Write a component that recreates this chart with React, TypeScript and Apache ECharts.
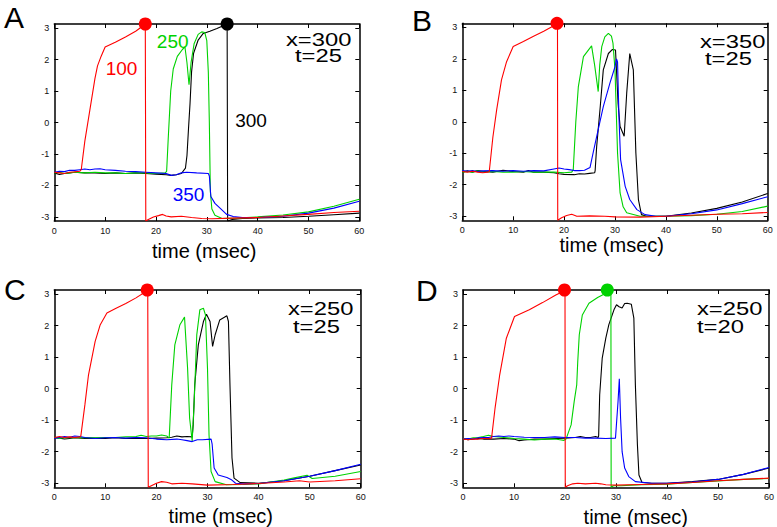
import React, { useEffect, useRef } from "react";
import * as echarts from "echarts";

// ---------- tick values ----------
const TIME_MIN = 0;
const TIME_MAX = 60;
const TIME_STEP = 10;
const V_MIN = -3.13;
const V_MAX = 3.13;
const V_TICKS = [-3, -2, -1, 0, 1, 2, 3];

// ---------- panel texts ----------
const PANEL_LETTERS = ["A", "B", "C", "D"];
const PANEL_X = ["x=300", "x=350", "x=250", "x=250"];
const PANEL_T = ["t=25", "t=25", "t=25", "t=20"];
const AXIS_TITLE = "time (msec)";
const A_CURVE_LABELS = ["100", "250", "300", "350"];

type P = [number, number];

// ---------- Panel A ----------
const aRed: P[] = [[0,-1.58],[1,-1.6],[2,-1.62],[3,-1.58],[4,-1.57],[5,-1.55],[5.3,-1.5],[6,-0.6],[7,0.4],[8,1.4],[8.5,1.8],[9.2,2.1],[10,2.4],[12,2.55],[14,2.72],[16,2.9],[17.9,3.12],[18.0,-3.13],[18.5,-3.08],[19.5,-3.0],[20.5,-2.96],[21.3,-2.92],[22,-2.97],[23,-3.0],[25,-2.98],[27,-3.02],[29,-3.05],[31,-3.06],[35,-3.04],[40,-3.02],[45,-2.97],[50,-2.92],[55,-2.86],[60,-2.82]];
const aGreen: P[] = [[0,-1.6],[1,-1.58],[2,-1.62],[3,-1.6],[4,-1.58],[6,-1.6],[8,-1.58],[10,-1.6],[12,-1.6],[14,-1.62],[16,-1.6],[18,-1.6],[20,-1.62],[21.8,-1.6],[22.1,-1.55],[22.4,-0.55],[22.9,1.0],[23.4,1.7],[24.2,2.1],[25.2,2.32],[25.7,2.4],[26.1,1.9],[26.5,1.2],[26.9,1.9],[27.5,2.5],[28.3,2.8],[29.0,2.88],[29.6,2.86],[30.0,2.6],[30.3,1.6],[30.5,0.0],[30.7,-2.2],[31.0,-2.75],[31.6,-2.95],[33,-3.05],[36,-3.04],[40,-3.0],[45,-2.94],[50,-2.84],[55,-2.66],[60,-2.44]];
const aBlack: P[] = [[0,-1.6],[1,-1.65],[2,-1.62],[3,-1.6],[4,-1.58],[6,-1.6],[8,-1.6],[10,-1.62],[12,-1.6],[14,-1.62],[16,-1.6],[18,-1.62],[20,-1.64],[22,-1.66],[23,-1.68],[24,-1.66],[25,-1.62],[25.8,-1.45],[26.1,-1.05],[26.4,-0.2],[26.7,0.6],[27,1.6],[27.4,2.2],[28.3,2.62],[29.3,2.83],[30.6,2.9],[32,2.99],[33,3.06],[34.0,3.12],[34.1,-3.13],[35,-3.08],[37,-3.05],[40,-3.03],[45,-3.02],[50,-2.98],[55,-2.93],[60,-2.88]];
const aBlue: P[] = [[0,-1.58],[1,-1.55],[2,-1.56],[3,-1.52],[4,-1.52],[5,-1.5],[6,-1.48],[7,-1.5],[8,-1.48],[9,-1.47],[10,-1.5],[12,-1.52],[14,-1.55],[16,-1.56],[18,-1.58],[20,-1.6],[22,-1.62],[23,-1.68],[24,-1.66],[25,-1.6],[26,-1.58],[28,-1.6],[30.3,-1.62],[30.5,-1.7],[30.8,-2.35],[31.6,-2.57],[32.6,-2.72],[33.9,-2.92],[35.2,-2.99],[37,-3.02],[40,-3.02],[45,-2.98],[50,-2.88],[55,-2.72],[60,-2.5]];
const aRedDot: P[] = [[17.9, 3.13]];
const aBlackDot: P[] = [[34.0, 3.13]];

// ---------- Panel B ----------
const bRed: P[] = [[0,-1.58],[1,-1.6],[2,-1.57],[3,-1.6],[4,-1.62],[5,-1.6],[5.3,-1.58],[6,-0.5],[6.75,0.38],[7.7,1.33],[8.7,1.91],[10,2.39],[12,2.55],[14,2.72],[16,2.88],[18.5,3.1],[18.7,3.12],[18.75,-3.13],[19.5,-3.05],[20.5,-2.98],[21.5,-2.94],[22.5,-3.0],[25,-2.99],[28,-3.0],[30,-3.02],[35,-3.03],[40,-3.0],[45,-2.97],[50,-2.94],[55,-2.92],[60,-2.88]];
const bGreen: P[] = [[0,-1.6],[1,-1.58],[2,-1.6],[3,-1.56],[4,-1.6],[6,-1.58],[8,-1.6],[10,-1.6],[12,-1.58],[14,-1.6],[16,-1.6],[18,-1.6],[20,-1.62],[21.5,-1.6],[21.8,-1.52],[22.3,0.0],[22.8,1.12],[23.8,2.07],[25.4,2.41],[26.0,1.8],[26.7,0.96],[27.0,1.8],[27.4,2.39],[28.0,2.7],[28.7,2.81],[29.3,2.72],[29.6,2.5],[30.0,1.65],[30.5,-0.99],[31.0,-2.26],[31.6,-2.7],[32.3,-2.89],[34.9,-3.0],[40,-3.0],[45,-2.98],[50,-2.94],[55,-2.85],[60,-2.68]];
const bBlack: P[] = [[0,-1.6],[1,-1.56],[2,-1.6],[3,-1.55],[4,-1.57],[6,-1.6],[8,-1.54],[10,-1.58],[12,-1.6],[13,-1.55],[14,-1.6],[16,-1.6],[18,-1.62],[19,-1.65],[20,-1.67],[22,-1.68],[23,-1.65],[24,-1.66],[25,-1.64],[26,-1.62],[26.1,-1.55],[26.4,-0.78],[27.1,0.48],[27.7,1.65],[28.7,2.17],[29.5,2.3],[30.1,2.28],[30.6,0.59],[31.0,-0.15],[31.8,-0.46],[32.3,0.91],[32.9,2.17],[33.6,1.65],[34.1,-0.99],[34.6,-2.47],[35.2,-2.95],[36.2,-3.0],[40,-3.0],[45,-2.9],[50,-2.75],[55,-2.55],[60,-2.28]];
const bBlue: P[] = [[0,-1.55],[1,-1.57],[2,-1.55],[3,-1.58],[4,-1.56],[6,-1.55],[8,-1.57],[10,-1.55],[12,-1.57],[14,-1.55],[16,-1.56],[18,-1.5],[19,-1.47],[20,-1.5],[21,-1.52],[22,-1.55],[23,-1.55],[24,-1.54],[25.1,-1.45],[25.7,-0.99],[26.7,-0.25],[27.7,0.48],[29.0,1.23],[30.0,1.75],[30.3,2.0],[30.5,1.9],[30.8,0.06],[31.1,-1.2],[32.0,-2.05],[32.9,-2.47],[34.3,-2.79],[35.9,-2.95],[38,-3.0],[40,-3.0],[45,-2.92],[50,-2.8],[55,-2.6],[60,-2.38]];
const bRedDot: P[] = [[18.6, 3.13]];
const bBlackDot: P[] = [];

// ---------- Panel C ----------
const cRed: P[] = [[0,-1.55],[1,-1.52],[2,-1.55],[3,-1.53],[4,-1.55],[5,-1.53],[5.2,-1.5],[6,-0.5],[6.7,0.44],[8.0,1.5],[9.0,2.03],[10.3,2.4],[12,2.54],[14,2.7],[16,2.88],[18.1,3.1],[18.3,3.12],[18.4,-3.13],[19,-3.08],[20,-3.0],[21,-2.95],[22,-2.97],[23,-3.02],[25,-3.0],[27,-3.02],[30,-3.06],[35,-3.04],[40,-3.01],[45,-2.96],[48,-2.92],[50,-2.96],[55,-2.92],[60,-2.86]];
const cGreen: P[] = [[0,-1.55],[1,-1.58],[2,-1.55],[4,-1.56],[6,-1.55],[8,-1.56],[10,-1.55],[12,-1.55],[14,-1.53],[16,-1.52],[17,-1.48],[18,-1.52],[19,-1.5],[20,-1.5],[21,-1.47],[22,-1.5],[22.5,-1.57],[23.0,0.12],[23.6,1.39],[24.6,2.03],[25.5,2.27],[26.1,0.65],[26.5,-0.94],[27.0,-1.66],[27.4,-0.41],[27.9,1.71],[28.5,2.5],[29.2,2.55],[29.6,2.34],[30.0,0.65],[30.3,-1.47],[30.7,-2.63],[31.5,-2.95],[33.7,-3.05],[37,-3.04],[40,-3.02],[45,-2.9],[47,-2.83],[49.5,-2.75],[50.5,-2.85],[55,-2.78],[60,-2.63]];
const cBlack: P[] = [[0,-1.55],[1,-1.57],[2,-1.6],[3,-1.58],[4,-1.56],[6,-1.58],[8,-1.57],[10,-1.58],[12,-1.56],[14,-1.58],[16,-1.57],[18,-1.58],[20,-1.57],[22,-1.56],[23,-1.54],[24,-1.5],[25,-1.53],[26,-1.52],[27,-1.53],[27.2,-1.15],[27.5,0.12],[28.2,1.39],[29.2,2.13],[29.8,2.36],[30.5,2.13],[31.0,1.34],[31.5,1.71],[32.4,2.18],[33.8,2.31],[34.1,2.13],[34.4,0.12],[34.8,-2.2],[35.2,-2.84],[36.4,-2.98],[40,-3.0],[45,-2.92],[50,-2.78],[55,-2.6],[60,-2.42]];
const cBlue: P[] = [[0,-1.58],[1,-1.55],[2,-1.52],[3,-1.54],[4,-1.5],[5,-1.52],[6,-1.55],[8,-1.58],[10,-1.56],[12,-1.55],[14,-1.57],[16,-1.55],[18,-1.56],[20,-1.6],[22,-1.62],[24,-1.6],[25,-1.62],[26,-1.65],[27,-1.68],[28,-1.62],[29,-1.62],[30.7,-1.6],[30.9,-1.75],[31.3,-2.52],[32.1,-2.74],[33.8,-2.82],[34.6,-2.88],[35.5,-3.0],[37,-3.02],[40,-3.01],[45,-2.92],[50,-2.78],[55,-2.6],[60,-2.4]];
const cRedDot: P[] = [[18.2, 3.13]];
const cBlackDot: P[] = [];

// ---------- Panel D ----------
const dRed: P[] = [[0,-1.6],[1,-1.62],[2,-1.6],[3,-1.6],[4,-1.58],[5,-1.58],[5.6,-1.57],[6.3,-0.6],[7.2,0.44],[8.5,1.6],[10.1,2.29],[13,2.5],[15.6,2.73],[18.2,2.97],[19.8,3.1],[20.0,3.12],[20.05,-3.13],[20.5,-3.08],[21.5,-3.02],[22.5,-3.0],[24,-3.02],[26,-3.0],[27,-3.02],[28,-3.05],[30,-3.06],[35,-3.04],[40,-3.02],[45,-2.98],[50,-2.92],[55,-2.88],[60,-2.84]];
const dGreen: P[] = [[0,-1.58],[1,-1.6],[2,-1.56],[3,-1.55],[4,-1.52],[5,-1.48],[6,-1.52],[8,-1.55],[10,-1.58],[12,-1.6],[14,-1.63],[16,-1.6],[18,-1.6],[19,-1.62],[19.8,-1.64],[20.2,-1.6],[21.2,-1.15],[21.8,-0.41],[22.3,0.12],[22.5,0.86],[22.8,1.71],[23.4,2.34],[24.7,2.71],[26.4,2.89],[28.0,3.03],[28.3,3.1],[29.0,3.12],[29.05,-3.13],[29.5,-3.08],[31,-3.08],[33,-3.06],[35,-3.05],[40,-3.03],[45,-2.98],[50,-2.93],[55,-2.88],[60,-2.85]];
const dBlack: P[] = [[0,-1.6],[1,-1.62],[2,-1.6],[3,-1.58],[4,-1.6],[6,-1.6],[8,-1.58],[10,-1.6],[11,-1.65],[12,-1.63],[14,-1.6],[16,-1.6],[18,-1.58],[20,-1.57],[22,-1.55],[23,-1.52],[24,-1.55],[25,-1.55],[26,-1.52],[26.5,-1.55],[26.6,-1.5],[26.8,-0.2],[27.3,0.97],[28.0,1.6],[28.6,2.03],[29.6,2.5],[30.1,2.66],[30.6,2.6],[31.2,2.56],[31.7,2.7],[32.2,2.71],[33.0,2.68],[33.5,2.24],[33.8,0.12],[34.2,-1.78],[34.5,-2.74],[35.1,-2.98],[37,-3.0],[40,-3.0],[45,-2.95],[50,-2.88],[55,-2.72],[60,-2.52]];
const dBlue: P[] = [[0,-1.6],[1,-1.58],[2,-1.6],[3,-1.56],[4,-1.55],[5,-1.55],[6,-1.52],[7,-1.5],[8,-1.52],[9,-1.5],[10,-1.52],[12,-1.54],[14,-1.55],[16,-1.55],[18,-1.53],[20,-1.55],[22,-1.55],[24,-1.57],[26,-1.57],[28,-1.58],[29.9,-1.57],[30.4,-0.41],[30.65,0.31],[30.9,-0.94],[31.2,-2.0],[31.7,-2.52],[32.5,-2.79],[33.8,-2.95],[37,-3.0],[40,-3.0],[45,-2.96],[50,-2.88],[55,-2.72],[60,-2.5]];
const dRedDot: P[] = [[19.9, 3.13]];
const dGreenDot: P[] = [[28.3, 3.13]];

// ---------- styles / layout ----------
const FONT = "'Liberation Sans', Arial, Helvetica, sans-serif";
const C_RED = "#ff0000";
const C_GREEN = "#00d200";
const C_BLUE = "#0000ff";
const C_BLACK = "#000000";

const GRIDS = [
  { left: 54.3, top: 24, width: 305, height: 197 },
  { left: 462.3, top: 23.3, width: 305.4, height: 197 },
  { left: 54.3, top: 290, width: 306.4, height: 197.3 },
  { left: 463, top: 290, width: 308, height: 197.3 },
];

const PANELS = [
  { lines: [[aBlack, C_BLACK], [aGreen, C_GREEN], [aBlue, C_BLUE], [aRed, C_RED]], dots: [[aRedDot, C_RED], [aBlackDot, C_BLACK]] },
  { lines: [[bBlack, C_BLACK], [bGreen, C_GREEN], [bBlue, C_BLUE], [bRed, C_RED]], dots: [[bRedDot, C_RED], [bBlackDot, C_BLACK]] },
  { lines: [[cBlack, C_BLACK], [cGreen, C_GREEN], [cBlue, C_BLUE], [cRed, C_RED]], dots: [[cRedDot, C_RED], [cBlackDot, C_BLACK]] },
  { lines: [[dBlack, C_BLACK], [dGreen, C_GREEN], [dBlue, C_BLUE], [dRed, C_RED]], dots: [[dRedDot, C_RED], [dGreenDot, C_GREEN]] },
] as { lines: [P[], string][]; dots: [P[], string][] }[];

// text positions
const LETTER_POS = [[4, 17.5], [412, 20], [4, 289.5], [416, 290.5]];
const TITLE_POS = [[204.2, 251.4], [611.7, 245], [220.8, 515.5], [635.8, 517]];
const XLAB_POS = [[286, 39.7], [700, 41.5], [288, 308.5], [697, 308.5]];
const TLAB_POS = [[295, 56.3], [705, 59], [293, 327], [697, 327]];
const A_LABEL_POS = [[121.5, 68], [172.7, 41.3], [251, 120.5], [188.5, 194.5]];
const A_LABEL_COLORS = [C_RED, C_GREEN, C_BLACK, C_BLUE];

const FRAME = { show: true, onZero: false, lineStyle: { color: "#000", width: 1.5 } };
const TICK_STYLE = { color: "#000", width: 1 };

function bottomX(i: number) {
  return {
    type: "value", gridIndex: i, position: "bottom",
    min: TIME_MIN, max: TIME_MAX, interval: TIME_STEP,
    axisLine: FRAME,
    axisTick: { show: true, inside: true, length: 4, lineStyle: TICK_STYLE },
    axisLabel: { show: true, fontSize: 9, color: "#111", margin: 5, fontFamily: FONT },
    splitLine: { show: false },
  };
}
function topX(i: number) {
  return {
    type: "value", gridIndex: i, position: "top",
    min: TIME_MIN, max: TIME_MAX, interval: TIME_STEP,
    axisLine: FRAME,
    axisTick: { show: true, inside: true, length: 4, lineStyle: TICK_STYLE },
    axisLabel: { show: false },
    splitLine: { show: false },
  };
}
function leftY(i: number) {
  return {
    type: "value", gridIndex: i, position: "left",
    min: V_MIN, max: V_MAX,
    axisLine: FRAME,
    axisTick: { show: true, inside: true, length: 4, customValues: V_TICKS, lineStyle: TICK_STYLE },
    axisLabel: { show: true, fontSize: 9, color: "#111", margin: 5, fontFamily: FONT, customValues: V_TICKS },
    splitLine: { show: false },
  };
}
function rightY(i: number) {
  return {
    type: "value", gridIndex: i, position: "right",
    min: V_MIN, max: V_MAX,
    axisLine: FRAME,
    axisTick: { show: true, inside: true, length: 4, customValues: V_TICKS, lineStyle: TICK_STYLE },
    axisLabel: { show: false },
    splitLine: { show: false },
  };
}

function txt(text: string, x: number, y: number, size: number, color: string, align: string, scaleX = 1) {
  return {
    type: "text", x, y, scaleX, silent: true, z: 100,
    style: { text, x: 0, y: 0, fill: color, font: `${size}px ${FONT}`, textAlign: align, textVerticalAlign: "middle" },
  };
}

export default function App() {
  const ref = useRef<HTMLDivElement>(null);
  useEffect(() => {
    if (!ref.current) return;
    const chart = echarts.init(ref.current, undefined, { renderer: "svg" });
    const series: any[] = [];
    PANELS.forEach((p, i) => {
      p.lines.forEach(([data, color]) => {
        series.push({
          type: "line", xAxisIndex: 2 * i, yAxisIndex: 2 * i, data,
          symbol: "none", showSymbol: false, silent: true,
          lineStyle: { color, width: 1.1 }, itemStyle: { color }, z: 3,
        });
      });
      p.dots.forEach(([data, color]) => {
        series.push({
          type: "scatter", xAxisIndex: 2 * i, yAxisIndex: 2 * i, data,
          symbol: "circle", symbolSize: 13, clip: false, silent: true,
          itemStyle: { color, opacity: 1 }, z: 5,
        });
      });
    });
    const graphic: any[] = [];
    for (let i = 0; i < 4; i++) {
      graphic.push(txt(PANEL_LETTERS[i], LETTER_POS[i][0], LETTER_POS[i][1], 30, "#000", "left"));
      graphic.push(txt(AXIS_TITLE, TITLE_POS[i][0], TITLE_POS[i][1], 20, "#000", "center"));
      graphic.push(txt(PANEL_X[i], XLAB_POS[i][0], XLAB_POS[i][1], 19, "#000", "left", 1.25));
      graphic.push(txt(PANEL_T[i], TLAB_POS[i][0], TLAB_POS[i][1], 19, "#000", "left", 1.25));
    }
    A_CURVE_LABELS.forEach((l, k) => {
      graphic.push(txt(l, A_LABEL_POS[k][0], A_LABEL_POS[k][1], 19, A_LABEL_COLORS[k], "center"));
    });
    chart.setOption({
      animation: false,
      backgroundColor: "#ffffff",
      grid: GRIDS.map((g) => ({ ...g, containLabel: false })),
      xAxis: GRIDS.flatMap((_, i) => [bottomX(i), topX(i)]),
      yAxis: GRIDS.flatMap((_, i) => [leftY(i), rightY(i)]),
      series,
      graphic,
    } as any);
    return () => chart.dispose();
  }, []);
  return (
    <div
      ref={ref}
      style={{ position: "fixed", left: 0, top: 0, width: 777, height: 527, background: "#fff" }}
    />
  );
}
